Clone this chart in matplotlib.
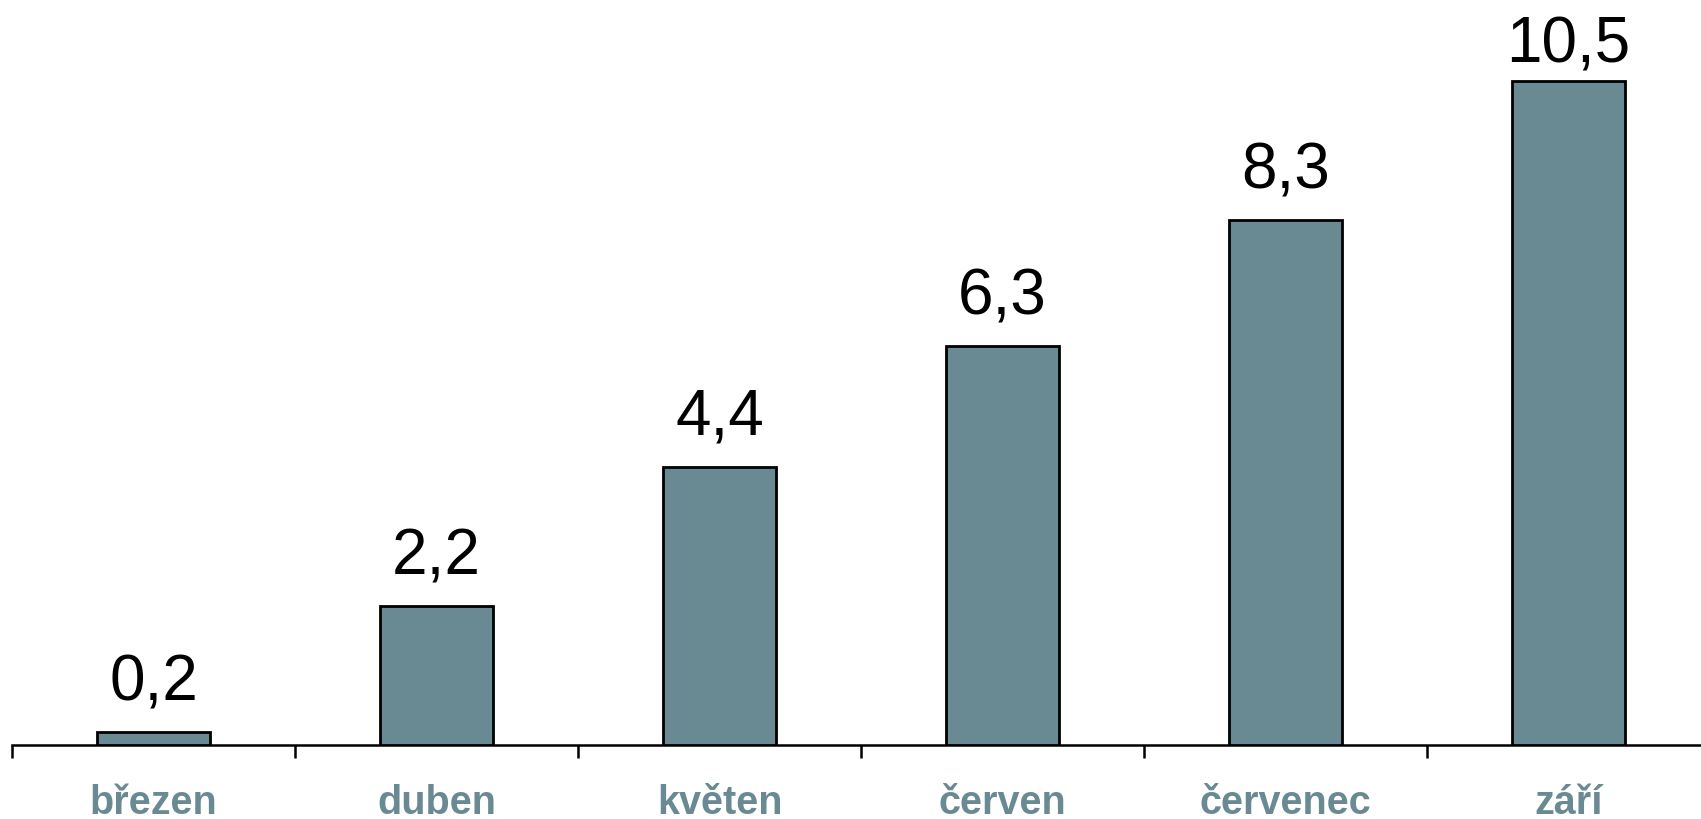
import matplotlib.pyplot as plt

# data
mesice = ['březen', 'duben', 'květen', 'červen', 'červenec', 'září']
hodnoty = [0.2, 2.2, 4.4, 6.3, 8.3, 10.5]
popisky = ['0,2', '2,2', '4,4', '6,3', '8,3', '10,5']

barva = '#6A8A93'
W, H = 1701, 819

plt.rcParams['font.family'] = ['Liberation Sans', 'DejaVu Sans']

fig = plt.figure(figsize=(W / 100, H / 100), dpi=100)
# osa: zacina u x=12 px, kategorie 283 px, spodni hrana 745 px od vrchu
ax = fig.add_axes([12 / W, 74 / H, 6 * 283 / W, 734 / H])
ax.set_xlim(-0.5, 5.5)
ax.set_ylim(0, 11.6)

x = list(range(len(mesice)))
ax.bar(x, hodnoty, width=0.4, color=barva, edgecolor='black', linewidth=2, zorder=3)

# popisky hodnot nad sloupci
for i, (v, t) in enumerate(zip(hodnoty, popisky)):
    y = min(v + 0.5, 10.79)
    ax.text(i, y, t, ha='center', va='baseline', fontsize=46, color='black')

# osa x jen spodni cara, ticky na hranicich kategorii
for s in ['top', 'right', 'left']:
    ax.spines[s].set_visible(False)
ax.spines['bottom'].set_linewidth(1.8)
ax.set_yticks([])
ax.set_xticks([i - 0.5 for i in range(len(mesice) + 1)])
ax.set_xticklabels([])
ax.tick_params(axis='x', direction='out', length=9, width=1.8, color='black')

for i, m in enumerate(mesice):
    ax.annotate(m, xy=(i, 0), xycoords=('data', 'axes fraction'),
                xytext=(0, -50), textcoords='offset points',
                ha='center', va='baseline', fontsize=28.5, fontweight='bold',
                color=barva, annotation_clip=False)

fig.savefig('out.png', dpi=100)
